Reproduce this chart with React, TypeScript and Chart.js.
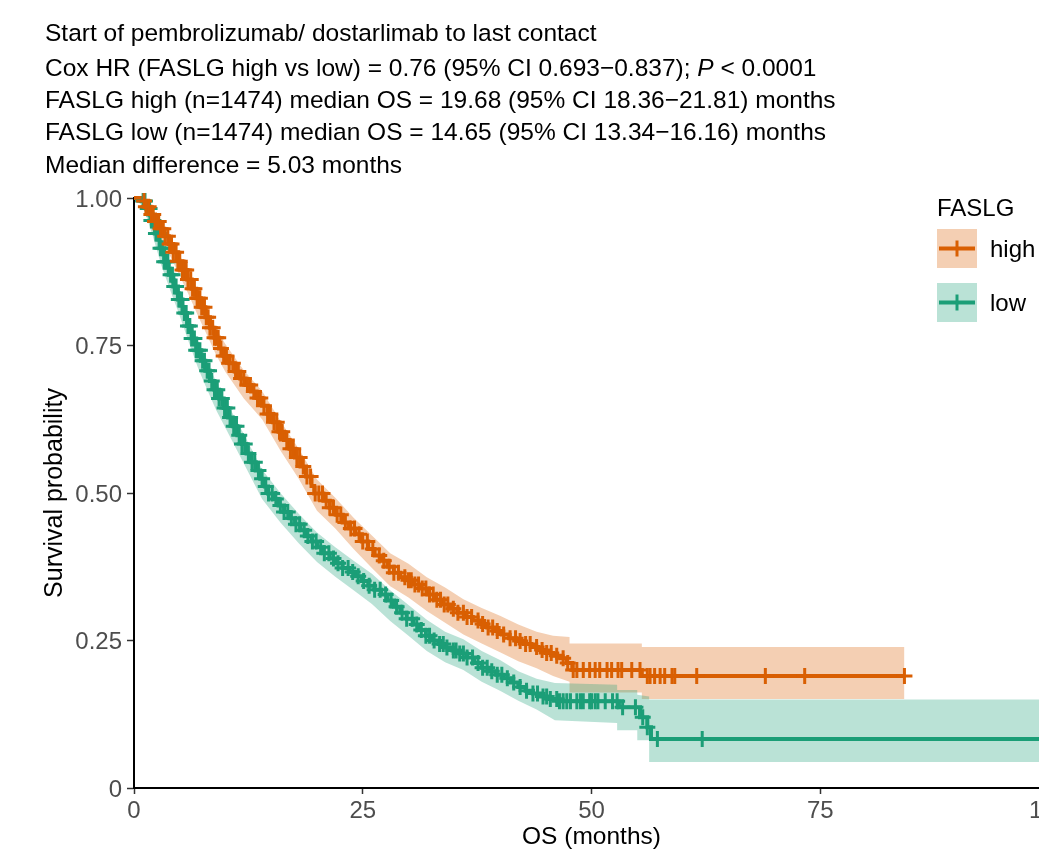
import React, { useEffect, useRef } from "react";
import { Chart, registerables } from "chart.js";
Chart.register(...registerables);

// ---------------- DATA ----------------
const HIGH_T = [0, 0.8, 1.3, 1.8, 2.3, 2.8, 3.3, 3.8, 4.3, 4.8, 5.3, 5.8, 6.3, 6.8, 7.3, 7.8, 8.3, 8.8, 9.3, 9.8, 10.4, 11, 11.6, 12.2, 12.8, 13.4, 14, 14.6, 15.2, 15.8, 16.4, 17, 17.6, 18.2, 18.8, 19.4, 19.7, 20.7, 21.4, 22.1, 22.8, 23.5, 24.2, 24.9, 25.6, 26.3, 27, 27.7, 28.4, 29.1, 29.8, 30.6, 31.4, 32.2, 33, 33.8, 34.6, 35.4, 36.2, 37, 37.8, 38.6, 39.4, 40.2, 41, 41.8, 42.6, 43.4, 44.2, 45, 45.8, 46.6, 47.3, 47.9, 55.5, 84.2];
const HIGH_S = [1, 0.995, 0.985, 0.972, 0.96, 0.948, 0.935, 0.922, 0.908, 0.893, 0.878, 0.862, 0.846, 0.83, 0.815, 0.798, 0.78, 0.763, 0.745, 0.732, 0.72, 0.706, 0.694, 0.683, 0.672, 0.661, 0.648, 0.634, 0.62, 0.604, 0.59, 0.575, 0.56, 0.545, 0.528, 0.512, 0.499, 0.487, 0.475, 0.463, 0.45, 0.44, 0.43, 0.418, 0.405, 0.394, 0.385, 0.375, 0.365, 0.357, 0.352, 0.345, 0.338, 0.328, 0.319, 0.311, 0.304, 0.297, 0.29, 0.284, 0.278, 0.272, 0.266, 0.26, 0.254, 0.249, 0.244, 0.239, 0.234, 0.229, 0.224, 0.22, 0.212, 0.2, 0.19, 0.19];
const HIGH_CI_T = [0, 1, 2, 3, 4, 5, 6, 7, 8, 9, 10, 12, 14, 16, 18, 20, 22, 24, 26, 28, 30, 32, 34, 36, 38, 40, 42, 44, 45.8, 47.6, 47.6, 55.5, 55.5, 84.2];
const HIGH_CI_LO = [1, 0.99, 0.955, 0.928, 0.9, 0.868, 0.835, 0.8, 0.767, 0.733, 0.705, 0.66, 0.625, 0.572, 0.524, 0.47, 0.44, 0.405, 0.373, 0.342, 0.323, 0.3, 0.28, 0.26, 0.245, 0.23, 0.215, 0.203, 0.19, 0.18, 0.162, 0.162, 0.151, 0.151];
const HIGH_CI_HI = [1, 1, 0.977, 0.955, 0.93, 0.903, 0.873, 0.843, 0.81, 0.778, 0.752, 0.708, 0.673, 0.622, 0.575, 0.523, 0.492, 0.458, 0.428, 0.398, 0.38, 0.357, 0.34, 0.32, 0.305, 0.292, 0.277, 0.265, 0.258, 0.256, 0.245, 0.245, 0.239, 0.239];
const HIGH_CENSOR = [1.1, 1.3, 1.6, 1.9, 2.1, 2.3, 2.5, 2.7, 2.9, 3.2, 3.4, 3.7, 3.9, 4.1, 4.3, 4.6, 4.8, 5.0, 5.3, 5.5, 5.7, 5.9, 6.2, 6.4, 6.6, 6.9, 7.0, 7.2, 7.4, 7.7, 7.9, 8.1, 8.3, 8.6, 8.8, 9.0, 9.2, 9.5, 9.8, 10.1, 10.4, 10.8, 11.1, 11.4, 11.7, 12.0, 12.4, 12.7, 13.1, 13.5, 13.8, 14.2, 14.6, 14.9, 15.3, 15.6, 15.9, 16.2, 16.7, 17.1, 17.4, 17.8, 18.1, 18.5, 18.9, 19.3, 19.8, 20.2, 20.6, 21.0, 21.4, 21.8, 22.2, 22.6, 23.1, 23.7, 24.1, 24.6, 25.0, 25.5, 26.1, 26.8, 27.3, 27.9, 28.4, 28.9, 29.6, 30.0, 30.3, 30.7, 31.1, 31.5, 31.9, 32.3, 32.7, 33.1, 33.5, 33.9, 34.3, 34.9, 35.4, 36.0, 36.4, 36.9, 37.6, 38.1, 38.7, 39.2, 39.7, 40.4, 41.1, 41.7, 42.2, 42.8, 43.3, 44.0, 44.6, 45.1, 45.6, 46.2, 46.9, 47.4, 48.0, 48.4, 49.1, 49.8, 50.4, 50.9, 51.7, 52.2, 52.9, 53.3, 54.4, 55.3, 56.1, 56.4, 56.9, 57.5, 58.0, 58.8, 59.1, 61.5, 69.0, 73.3, 84.2];

const LOW_T = [0, 0.8, 1.3, 1.8, 2.3, 2.8, 3.3, 3.8, 4.3, 4.8, 5.3, 5.8, 6.3, 6.8, 7.3, 7.8, 8.3, 8.8, 9.3, 9.8, 10.3, 10.8, 11.3, 11.8, 12.3, 12.8, 13.3, 13.8, 14.3, 14.65, 15.2, 15.8, 16.4, 17, 17.6, 18.2, 18.8, 19.4, 20, 20.7, 21.4, 22.1, 22.8, 23.5, 24.2, 24.9, 25.6, 26.3, 27, 27.7, 28.4, 29.1, 29.8, 30.5, 31.2, 31.9, 32.6, 33.3, 34, 34.8, 35.6, 36.4, 37.2, 38, 38.8, 39.6, 40.4, 41.2, 42, 42.8, 43.6, 44.4, 45.2, 46.5, 53, 55.3, 56.1, 56.5, 104];
const LOW_S = [1, 0.995, 0.982, 0.962, 0.94, 0.915, 0.892, 0.87, 0.85, 0.828, 0.805, 0.783, 0.762, 0.742, 0.724, 0.707, 0.69, 0.675, 0.66, 0.644, 0.628, 0.613, 0.598, 0.583, 0.567, 0.552, 0.538, 0.524, 0.511, 0.499, 0.49, 0.479, 0.468, 0.457, 0.447, 0.437, 0.427, 0.418, 0.408, 0.398, 0.389, 0.381, 0.373, 0.366, 0.359, 0.351, 0.343, 0.336, 0.328, 0.318, 0.307, 0.297, 0.287, 0.277, 0.268, 0.258, 0.25, 0.244, 0.238, 0.233, 0.228, 0.221, 0.212, 0.204, 0.198, 0.192, 0.186, 0.179, 0.171, 0.165, 0.16, 0.155, 0.151, 0.147, 0.137, 0.12, 0.103, 0.083, 0.083];
const LOW_CI_T = [0, 1, 2, 3, 4, 5, 6, 7, 8, 9, 10, 12, 14, 16, 18, 20, 22, 24, 26, 28, 30, 32, 34, 36, 38, 40, 42, 44, 46, 52.8, 52.8, 55, 55, 56.3, 56.3, 104];
const LOW_CI_LO = [1, 0.985, 0.938, 0.885, 0.842, 0.8, 0.755, 0.712, 0.675, 0.64, 0.61, 0.55, 0.49, 0.45, 0.415, 0.383, 0.358, 0.335, 0.312, 0.283, 0.258, 0.232, 0.213, 0.2, 0.18, 0.165, 0.148, 0.133, 0.115, 0.11, 0.098, 0.098, 0.081, 0.081, 0.044, 0.044];
const LOW_CI_HI = [1, 0.998, 0.965, 0.92, 0.88, 0.84, 0.798, 0.758, 0.722, 0.688, 0.657, 0.6, 0.54, 0.5, 0.465, 0.433, 0.408, 0.385, 0.363, 0.335, 0.31, 0.285, 0.265, 0.252, 0.232, 0.217, 0.198, 0.185, 0.178, 0.175, 0.166, 0.166, 0.158, 0.155, 0.15, 0.15];
const LOW_CENSOR = [1.0, 1.2, 1.5, 1.7, 1.9, 2.1, 2.4, 2.5, 2.7, 2.9, 3.1, 3.3, 3.5, 3.7, 4.0, 4.2, 4.4, 4.6, 4.9, 5.0, 5.2, 5.5, 5.7, 5.9, 6.1, 6.3, 6.6, 6.8, 7.0, 7.2, 7.5, 7.7, 8.0, 8.2, 8.5, 8.8, 9.1, 9.3, 9.6, 9.9, 10.2, 10.5, 10.9, 11.2, 11.5, 11.8, 12.1, 12.5, 12.9, 13.2, 13.6, 14.0, 14.4, 14.7, 15.1, 15.5, 16.0, 16.4, 16.8, 17.2, 17.7, 18.1, 18.6, 19.0, 19.5, 19.9, 20.4, 20.8, 21.3, 21.8, 22.3, 22.8, 23.4, 23.9, 24.5, 25.1, 25.7, 26.3, 26.9, 27.5, 28.1, 28.7, 29.3, 29.8, 30.4, 30.9, 31.4, 31.9, 32.3, 32.8, 33.4, 33.8, 34.2, 34.9, 35.2, 35.6, 36.0, 36.4, 37.0, 37.6, 38.1, 38.6, 39.1, 39.7, 40.2, 40.8, 41.5, 42.2, 42.9, 43.6, 44.1, 44.7, 45.1, 45.5, 46.2, 46.5, 46.9, 47.3, 47.7, 48.4, 48.8, 49.1, 49.8, 50.0, 50.4, 50.7, 51.5, 52.3, 52.8, 53.4, 54.8, 55.6, 56.1, 57.2, 62.1];

const X_TICKS = [0, 25, 50, 75, 100];
const X_TICK_LABELS = ["0", "25", "50", "75", "100"];
const Y_TICKS = [0, 0.25, 0.5, 0.75, 1];
const Y_TICK_LABELS = ["0", "0.25", "0.50", "0.75", "1.00"];
const X_TITLE = "OS (months)";
const Y_TITLE = "Survival probability";
const LEGEND_TITLE = "FASLG";
const GROUPS = ["high", "low"];
const HEADER_1 = "Start of pembrolizumab/ dostarlimab to last contact";
const HEADER_2A = "Cox HR (FASLG high vs low) = 0.76 (95% CI 0.693\u22120.837); ";
const HEADER_2P = "P";
const HEADER_2B = " < 0.0001";
const HEADER_3 = "FASLG high (n=1474) median OS = 19.68 (95% CI 18.36\u221221.81) months";
const HEADER_4 = "FASLG low (n=1474) median OS = 14.65 (95% CI 13.34\u221216.16) months";
const HEADER_5 = "Median difference = 5.03 months";

// ---------------- STYLE ----------------
const ORANGE = "#D95F02";
const GREEN = "#1B9E77";
const ORANGE_BAND = "rgba(217,95,2,0.3)";
const GREEN_BAND = "rgba(27,158,119,0.3)";
const FONT = '"Liberation Sans", Arial, Helvetica, sans-serif';

function survAt(ts: number[], ss: number[], t: number) {
  let v = ss[0];
  for (let i = 0; i < ts.length; i++) {
    if (ts[i] <= t + 1e-9) v = ss[i];
    else break;
  }
  return v;
}
const pts = (ts: number[], vs: number[]) => ts.map((t, i) => ({ x: t, y: vs[i] }));

const textPlugin = {
  id: "textPlugin",
  afterDraw(chart: any) {
    const ctx = chart.ctx as CanvasRenderingContext2D;
    const xs = chart.scales.x;
    const ys = chart.scales.y;
    ctx.save();
    ctx.textBaseline = "alphabetic";
    // header
    ctx.fillStyle = "#000";
    ctx.font = `24.5px ${FONT}`;
    ctx.textAlign = "left";
    const hx = 45;
    ctx.fillText(HEADER_1, hx, 41);
    let x = hx;
    ctx.fillText(HEADER_2A, x, 76);
    x += ctx.measureText(HEADER_2A).width;
    ctx.font = `italic 24.5px ${FONT}`;
    ctx.fillText(HEADER_2P, x, 76);
    x += ctx.measureText(HEADER_2P).width;
    ctx.font = `24.5px ${FONT}`;
    ctx.fillText(HEADER_2B, x, 76);
    ctx.fillText(HEADER_3, hx, 108);
    ctx.fillText(HEADER_4, hx, 140);
    ctx.fillText(HEADER_5, hx, 173);

    // y tick labels
    ctx.fillStyle = "#4D4D4D";
    ctx.font = `24px ${FONT}`;
    ctx.textAlign = "right";
    Y_TICKS.forEach((v, i) => {
      ctx.fillText(Y_TICK_LABELS[i], 122, ys.getPixelForValue(v) + 8.6);
    });
    // x tick labels
    ctx.textAlign = "center";
    X_TICKS.forEach((v, i) => {
      ctx.fillText(X_TICK_LABELS[i], xs.getPixelForValue(v), 818);
    });
    // axis titles
    ctx.fillStyle = "#000";
    ctx.font = `24.5px ${FONT}`;
    ctx.fillText(X_TITLE, xs.getPixelForValue(50), 844);
    ctx.save();
    ctx.translate(62, ys.getPixelForValue(0.5));
    ctx.rotate(-Math.PI / 2);
    ctx.textAlign = "center";
    ctx.font = `25px ${FONT}`;
    ctx.fillText(Y_TITLE, 0, 0);
    ctx.restore();

    // legend
    ctx.textAlign = "left";
    ctx.font = `24px ${FONT}`;
    ctx.fillText(LEGEND_TITLE, 937, 216);
    const keys = [
      { top: 229, band: ORANGE_BAND, col: ORANGE, label: GROUPS[0], base: 257 },
      { top: 283, band: GREEN_BAND, col: GREEN, label: GROUPS[1], base: 311 },
    ];
    keys.forEach((k) => {
      ctx.fillStyle = k.band;
      ctx.fillRect(937, k.top, 40, 39);
      const cy = k.top + 19.5;
      ctx.strokeStyle = k.col;
      ctx.lineWidth = 4;
      ctx.beginPath();
      ctx.moveTo(939, cy);
      ctx.lineTo(975, cy);
      ctx.stroke();
      ctx.lineWidth = 3;
      ctx.beginPath();
      ctx.moveTo(957, cy - 8);
      ctx.lineTo(957, cy + 8);
      ctx.stroke();
      ctx.fillStyle = "#000";
      ctx.fillText(k.label, 990, k.base);
    });
    ctx.restore();
  },
};

export default function App() {
  const ref = useRef<HTMLCanvasElement | null>(null);
  useEffect(() => {
    if (!ref.current) return;
    const censorDs = (ts: number[], ss: number[], cens: number[], col: string) => ({
      data: cens.map((t) => ({ x: t, y: survAt(ts, ss, t) })),
      showLine: false,
      pointStyle: "cross",
      pointRadius: 8,
      pointBorderWidth: 3,
      pointBorderColor: col,
      pointBackgroundColor: col,
      borderColor: col,
      clip: false,
      order: 0,
    });
    const lineDs = (ts: number[], ss: number[], col: string) => ({
      data: pts(ts, ss),
      stepped: true,
      borderColor: col,
      borderWidth: 4,
      pointRadius: 0,
      fill: false,
      clip: false,
      order: 1,
    });
    const chart = new Chart(ref.current, {
      type: "line",
      data: {
        datasets: [
          censorDs(HIGH_T, HIGH_S, HIGH_CENSOR, ORANGE) as any,
          censorDs(LOW_T, LOW_S, LOW_CENSOR, GREEN) as any,
          lineDs(HIGH_T, HIGH_S, ORANGE) as any,
          lineDs(LOW_T, LOW_S, GREEN) as any,
          {
            data: pts(HIGH_CI_T, HIGH_CI_HI),
            borderWidth: 0,
            borderColor: "rgba(0,0,0,0)",
            pointRadius: 0,
            fill: "+1",
            backgroundColor: ORANGE_BAND,
            order: 3,
          },
          {
            data: pts(HIGH_CI_T, HIGH_CI_LO),
            borderWidth: 0,
            borderColor: "rgba(0,0,0,0)",
            pointRadius: 0,
            fill: false,
            order: 3,
          },
          {
            data: pts(LOW_CI_T, LOW_CI_HI),
            borderWidth: 0,
            borderColor: "rgba(0,0,0,0)",
            pointRadius: 0,
            fill: "+1",
            backgroundColor: GREEN_BAND,
            order: 2,
          },
          {
            data: pts(LOW_CI_T, LOW_CI_LO),
            borderWidth: 0,
            borderColor: "rgba(0,0,0,0)",
            pointRadius: 0,
            fill: false,
            order: 2,
          },
        ],
      },
      options: {
        animation: false,
        responsive: false,
        devicePixelRatio: 1,
        layout: { padding: { top: 198, right: 1100 - (134 + 104 * 9.15), bottom: 0, left: 0 } },
        plugins: { legend: { display: false }, tooltip: { enabled: false } },
        scales: {
          x: {
            type: "linear",
            min: 0,
            max: 104,
            afterFit: (s: any) => { s.height = 64; },
            ticks: { stepSize: 25, includeBounds: false, color: "rgba(0,0,0,0)", maxRotation: 0, autoSkip: false },
            grid: { display: true, drawOnChartArea: false, drawTicks: true, tickLength: 6, tickColor: "#333", tickWidth: 1.5 },
            border: { display: true, color: "#000", width: 2 },
          },
          y: {
            type: "linear",
            min: 0,
            max: 1,
            afterFit: (s: any) => { s.width = 134; },
            ticks: { stepSize: 0.25, color: "rgba(0,0,0,0)" },
            grid: { display: true, drawOnChartArea: false, drawTicks: true, tickLength: 7, tickColor: "#333", tickWidth: 1.5 },
            border: { display: true, color: "#000", width: 2 },
          },
        },
      } as any,
      plugins: [textPlugin],
    });
    return () => chart.destroy();
  }, []);
  return (
    <div style={{ position: "fixed", left: 0, top: 0, width: 1039, height: 852, overflow: "hidden", background: "#fff" }}>
      <canvas ref={ref} width={1100} height={852} style={{ width: 1100, height: 852, display: "block" }} />
    </div>
  );
}
